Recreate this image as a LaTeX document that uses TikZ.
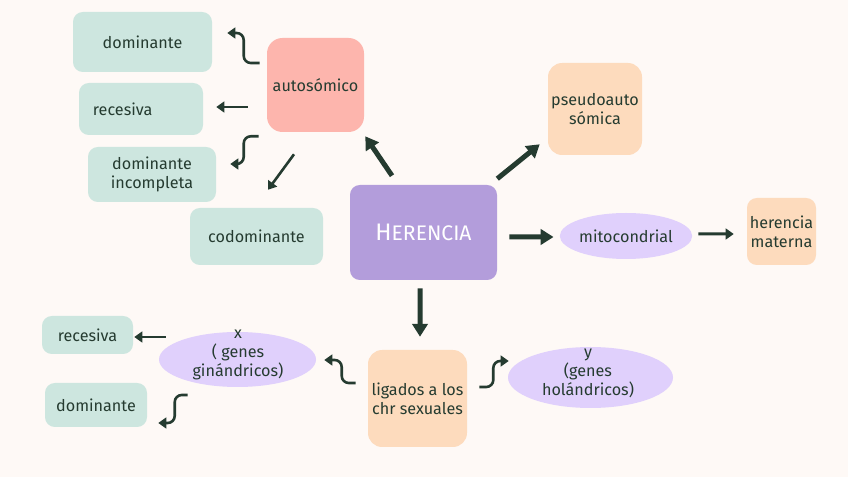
\documentclass[tikz,border=0pt]{standalone}
\usepackage{fontspec}
\setmainfont{Fira Sans}
\usetikzlibrary{arrows.meta,shapes.geometric}

\definecolor{paper}{HTML}{FEF9F6}
\definecolor{mint}{HTML}{CDE6DF}
\definecolor{salmon}{HTML}{FDB5AD}
\definecolor{lilac}{HTML}{B39DDB}
\definecolor{peach}{HTML}{FDDBBD}
\definecolor{lavender}{HTML}{E0D0FC}
\definecolor{ink}{HTML}{253B30}

\begin{document}
\begin{tikzpicture}[
    x=0.025cm, y=-0.025cm,
    font=\fontsize{11.5}{13.5}\selectfont, text=ink,
    size/.style 2 args={minimum width=#1*0.025cm, minimum height=#2*0.025cm},
    box/.style={fill=#1, rounded corners=7pt, align=center, inner sep=0pt},
    blob/.style={ellipse, fill=lavender, inner sep=0pt},
    bigarrow/.style={-{Triangle[length=0.32cm,width=0.38cm]}, line width=0.125cm, ink},
    midarrow/.style={-{Triangle[length=0.2cm,width=0.27cm]}, line width=0.075cm, ink},
    smallarrow/.style={-{Triangle[length=0.2cm,width=0.27cm]}, line width=0.065cm, ink,
                       rounded corners=5pt}
]

% background
\fill[paper] (0,0) rectangle (848,477);

% --- CENTRE ---
\node[box=lilac, size={147}{95}, text=white] (her) at (423.5,232.5)
  {\fontsize{17}{20}\selectfont H{\fontsize{15}{18}\selectfont ERENCIA}};

% --- AUTOSOMICO ---
\node[box=salmon, size={97}{94}, rounded corners=11pt] (auto) at (315.5,85) {autosómico};
\node[box=mint, size={139}{60}] (domA) at (142.5,42) {dominante};
\node[box=mint, size={124}{52}, text width=2.4cm, align=left] (recA) at (141,109) {recesiva};
\node[box=mint, size={128}{55}] (domInc) at (152,174.5) {dominante\\incompleta};
\node[box=mint, size={133}{57}] (codom) at (256.5,236.5) {codominante};

% --- PSEUDOAUTOSOMICA / MITOCONDRIAL ---
\node[box=peach, size={94}{92}, rounded corners=10pt] (pseudo) at (595,109) {pseudoauto\\sómica};
\node[blob, size={126}{46}] (mito) at (626,236) {mitocondrial};
\node[box=peach, size={69}{67}] (materna) at (781.5,231.5) {herencia\\materna};

% --- LIGADOS A LOS CHR SEXUALES ---
\node[box=peach, size={99}{97}, rounded corners=10pt] (lig) at (417.5,398.5) {ligados a los\\chr sexuales};
\node[blob, size={157}{55}] (xg) at (237.5,359.5) {};
\node[align=center] (xtext) at (238,355) {x\\( genes\\ginándricos)};
\node[blob, size={165}{61}] (yg) at (590.5,377.5) {};
\node[align=center] (ytext) at (588,373.5) {y\\(genes\\holándricos)};
\node[box=mint, size={91}{38}] (recB) at (87.5,335) {recesiva};
\node[box=mint, size={102}{44}] (domB) at (96,405) {dominante};

% --- HERENCIA -> branches ---
\draw[bigarrow] ([shift={(-31.5,-9)}]her.north) -- ([shift={(1,4)}]auto.south east);
\draw[bigarrow] ([shift={(0,-6)}]her.north east) -- ([shift={(-8,-11)}]pseudo.south west);
\draw[bigarrow] ([shift={(12,4.5)}]her.east) -- ([shift={(-6,1)}]mito.west);
\draw[bigarrow] ([shift={(-3.5,8)}]her.south) -- ([shift={(2.5,-13)}]lig.north);
\draw[midarrow] ([shift={(6,-2)}]mito.east) -- ([shift={(-13,2.5)}]materna.west);

% --- autosomico -> types ---
\draw[smallarrow] ([shift={(-7,-22)}]auto.west) -- ++(-16,0) |- ([shift={(15,-9)}]domA.east);
\draw[smallarrow] ([shift={(-19,22)}]auto.west) -- ([shift={(13,-2)}]recA.east);
\draw[smallarrow] ([shift={(-8,4)}]auto.south west) -- ++(-15,0) |- ([shift={(14,-10.5)}]domInc.east);
\draw[smallarrow] ([shift={(-21.5,22)}]auto.south) -- ([shift={(11.5,-18)}]codom.north);

% --- ligados -> x / y ---
\draw[smallarrow] ([shift={(-12,-15.5)}]lig.west) -- ++(-14,0) |- ([shift={(8,0.5)}]xg.east);
\draw[smallarrow] ([shift={(12,-11.5)}]lig.east) -- ++(14,0) |- ([shift={(1,-16.5)}]yg.west);
\draw[smallarrow] ([shift={(7,-22.5)}]xg.west) -- ([shift={(1,2)}]recB.east);
\draw[smallarrow] ([shift={(29,35.5)}]xg.west) -- ++(-13,0) |- ([shift={(11,18)}]domB.east);

\end{tikzpicture}
\end{document}
